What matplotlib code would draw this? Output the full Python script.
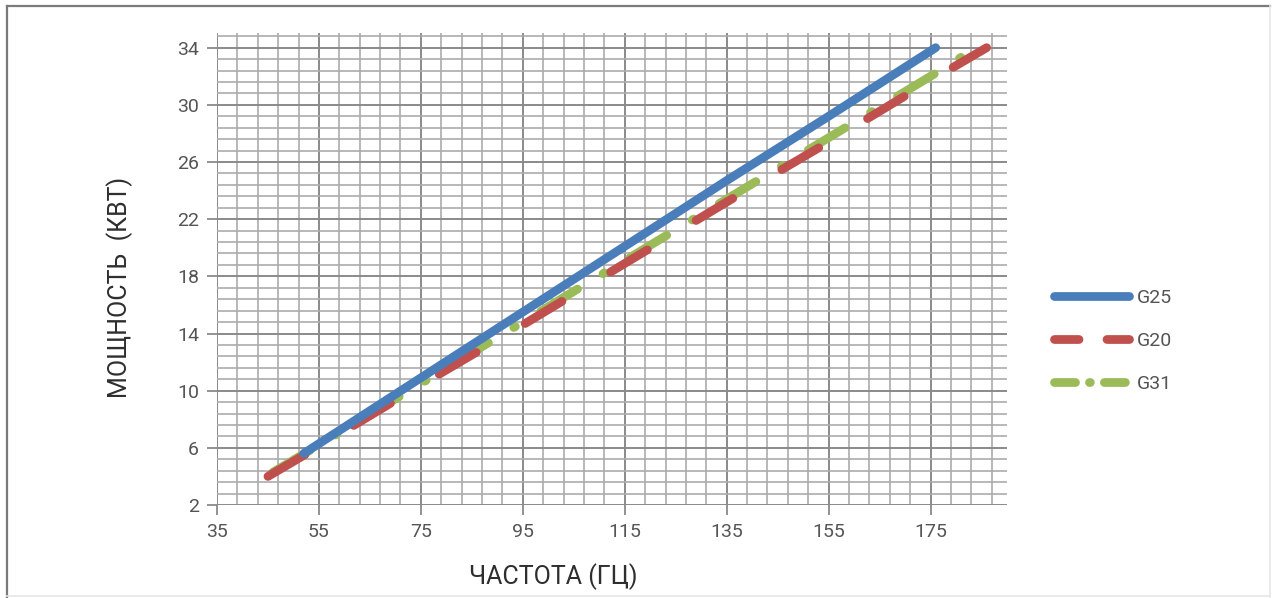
import numpy as np
import matplotlib
matplotlib.use("Agg")
import matplotlib.pyplot as plt
from matplotlib.lines import Line2D
from matplotlib.ticker import FixedLocator

plt.rcParams['font.family'] = ['Roboto', 'DejaVu Sans']

# values
g25_freq = [52, 75, 95, 115, 135, 155, 176]
g25_power = [5.6, 10.9, 15.5, 20.1, 24.7, 29.2, 34.0]

g20_freq = [45, 55, 75, 95, 115, 135, 155, 175, 186]
g20_power = [4.0, 6.1, 10.4, 14.6, 18.9, 23.2, 27.4, 31.7, 34.0]

g31_freq = [46, 55, 75, 95, 115, 135, 155, 175, 184]
g31_power = [4.3, 6.2, 10.5, 14.8, 19.1, 23.4, 27.7, 32.0, 34.0]

series_names = ['G25', 'G20', 'G31']
x_ticks = [35, 55, 75, 95, 115, 135, 155, 175]
y_ticks = [2, 6, 10, 14, 18, 22, 26, 30, 34]

blue = '#4a7ebb'
red = '#c0504d'
green = '#9bbb59'
lw = 6.3

fig = plt.figure(figsize=(12.75, 5.98), dpi=100)
W, H = 1275, 598
ax = fig.add_axes([217 / W, 1 - 505 / H, (1007 - 217) / W, (505 - 33.4) / H])

ax.plot(g31_freq, g31_power, color=green, lw=lw, dashes=(4.9, 3.4, 0.2, 3.4),
        dash_capstyle='round', zorder=3)
ax.plot(g20_freq, g20_power, color=red, lw=lw, dashes=(4.9, 6.5),
        dash_capstyle='round', zorder=4)
ax.plot(g25_freq, g25_power, color=blue, lw=lw, solid_capstyle='round', zorder=5)

ax.set_xlim(35, 190)
ax.set_ylim(2, 35)
ax.xaxis.set_major_locator(FixedLocator(x_ticks))
ax.yaxis.set_major_locator(FixedLocator(y_ticks))
ax.xaxis.set_minor_locator(FixedLocator(np.arange(35, 190, 4)))
ax.yaxis.set_minor_locator(FixedLocator(np.arange(2, 35, 0.8)))

ax.set_axisbelow(True)
ax.grid(which='major', color='#8a8a8a', lw=1.4)
ax.grid(which='minor', color='#ababab', lw=1.2)
for s in ax.spines.values():
    s.set_visible(False)
ax.tick_params(which='major', length=7, width=1.3, color='#8a8a8a',
               labelsize=14, labelcolor='#555555', pad=6)
ax.tick_params(which='minor', length=0)

fig.text(553 / W, 1 - 577 / H, 'ЧАСТОТА (ГЦ)', ha='center', va='center',
         fontsize=18, color='#2e2e2e')
fig.text(120 / W, 1 - 287 / H, 'МОЩНОСТЬ  (КВТ)', ha='center', va='center',
         rotation=90, fontsize=18, color='#2e2e2e')

handles = [
    Line2D([], [], color=blue, lw=lw, solid_capstyle='round'),
    Line2D([], [], color=red, lw=lw, dashes=(2.8, 3.2), dash_capstyle='round'),
    Line2D([], [], color=green, lw=lw, dashes=(2.4, 1.6, 0.1, 1.6), dash_capstyle='round'),
]
leg = fig.legend(handles, series_names, loc='center left',
                 bbox_to_anchor=(1036 / W, 1 - 341 / H), frameon=False,
                 fontsize=14, handlelength=3.9, labelspacing=1.3, handletextpad=0.4)
for t in leg.get_texts():
    t.set_color('#555555')

# frame round the whole picture
fig.add_artist(Line2D([7 / W, 7 / W], [1 - 597 / H, 1 - 6 / H], color='#7a7a7a', lw=1.6))
fig.add_artist(Line2D([7 / W, 1270 / W], [1 - 6 / H, 1 - 6 / H], color='#7a7a7a', lw=1.6))
fig.add_artist(Line2D([1270 / W, 1270 / W], [1 - 597 / H, 1 - 6 / H], color='#e6e6e6', lw=1.2))
fig.add_artist(Line2D([7 / W, 1270 / W], [1 - 596 / H, 1 - 596 / H], color='#e6e6e6', lw=1.2))

fig.savefig('out.png', dpi=100)
